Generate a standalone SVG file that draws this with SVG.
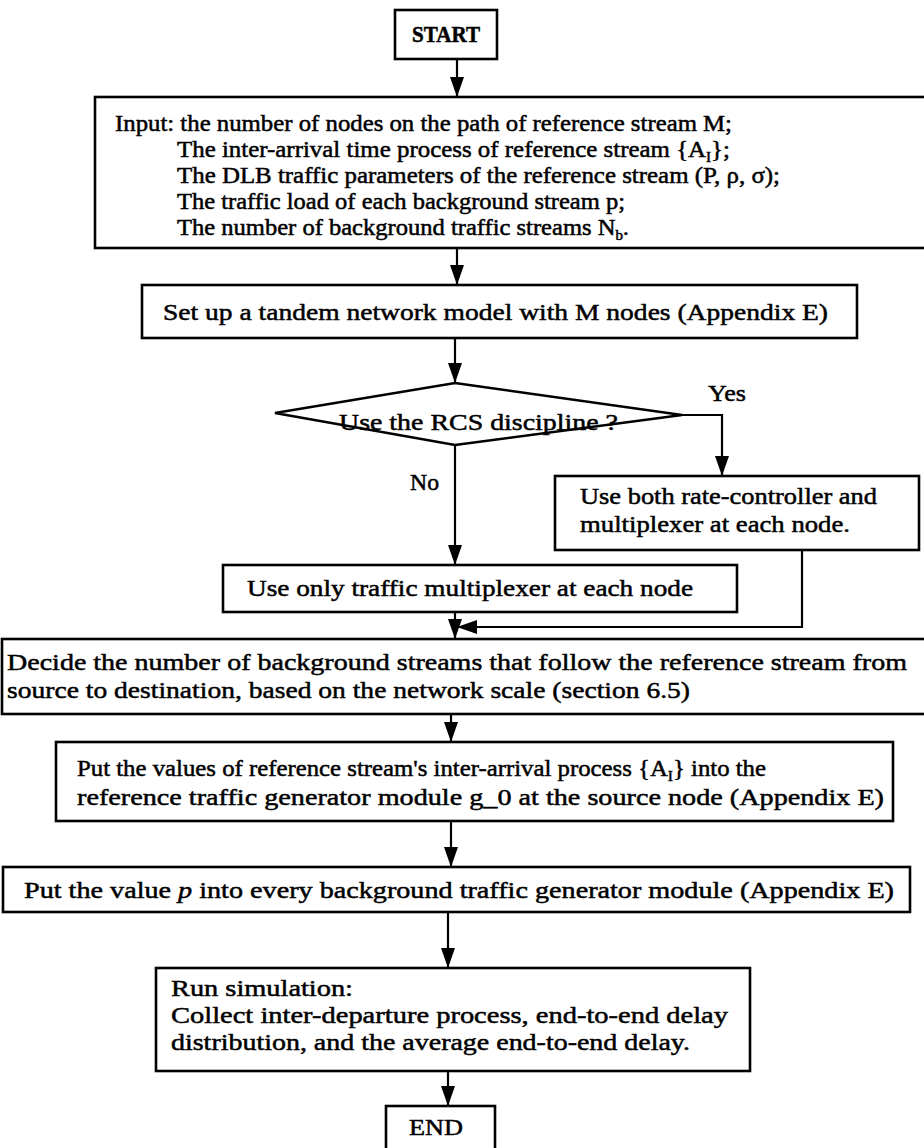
<svg xmlns="http://www.w3.org/2000/svg" width="924" height="1148" viewBox="0 0 924 1148">
  <style>
    .box { fill: #fff; stroke: #000; stroke-width: 2.6; }
    .t { font-family: "Liberation Serif", "Times New Roman", serif; font-size: 24px; fill: #000; stroke: #000; stroke-width: 0.5; }
    .s { font-size: 23px; }
    .c { text-anchor: middle; }
    .conn { fill: none; stroke: #000; stroke-width: 2.2; }
  </style>
  <defs>
    <marker id="arrow" viewBox="0 0 20 14" refX="20" refY="7" markerWidth="20" markerHeight="14" markerUnits="userSpaceOnUse" orient="auto">
      <path d="M0,0 L20,7 L0,14 z" fill="#000"/>
    </marker>
  </defs>
  <rect width="924" height="1148" fill="#fff"/>

  <!-- connectors -->
  <g id="connectors">
    <line class="conn" x1="457" y1="59" x2="457" y2="97" marker-end="url(#arrow)"/>
    <line class="conn" x1="457" y1="248" x2="457" y2="285" marker-end="url(#arrow)"/>
    <line class="conn" x1="455" y1="338" x2="455" y2="383" marker-end="url(#arrow)"/>
    <polyline class="conn" points="682,415 722,415 722,476" marker-end="url(#arrow)"/>
    <line class="conn" x1="455" y1="445" x2="455" y2="565" marker-end="url(#arrow)"/>
    <polyline class="conn" points="802,550 802,627 457,627" marker-end="url(#arrow)"/>
    <line class="conn" x1="455" y1="612" x2="455" y2="639" marker-end="url(#arrow)"/>
    <line class="conn" x1="451" y1="714" x2="451" y2="742" marker-end="url(#arrow)"/>
    <line class="conn" x1="451" y1="821" x2="451" y2="867" marker-end="url(#arrow)"/>
    <line class="conn" x1="448" y1="912" x2="448" y2="968" marker-end="url(#arrow)"/>
    <line class="conn" x1="448" y1="1071" x2="448" y2="1106" marker-end="url(#arrow)"/>
  </g>

  <g id="start">
    <rect class="box" x="395" y="10" width="102" height="49"/>
    <text class="t c" x="446" y="42" font-size="22" font-weight="bold" textLength="68" lengthAdjust="spacingAndGlyphs">START</text>
  </g>

  <g id="input">
    <rect class="box" x="95" y="97" width="845" height="151"/>
    <text class="t s" x="115" y="131" textLength="617" lengthAdjust="spacingAndGlyphs">Input: the number of nodes on the path of reference stream M;</text>
    <text class="t s" x="177" y="157" textLength="553" lengthAdjust="spacingAndGlyphs">The inter-arrival time process of reference stream {A<tspan font-size="14" dy="5">I</tspan><tspan dy="-5">};</tspan></text>
    <text class="t s" x="177" y="183" textLength="603" lengthAdjust="spacingAndGlyphs">The DLB traffic parameters of the reference stream (P, ρ, σ);</text>
    <text class="t s" x="177" y="209" textLength="448" lengthAdjust="spacingAndGlyphs">The traffic load of each background stream p;</text>
    <text class="t s" x="177" y="235" textLength="452" lengthAdjust="spacingAndGlyphs">The number of background traffic streams N<tspan font-size="14" dy="5">b</tspan><tspan dy="-5">.</tspan></text>
  </g>

  <g id="setup">
    <rect class="box" x="142" y="285" width="715" height="53"/>
    <text class="t" x="163" y="320" textLength="665" lengthAdjust="spacingAndGlyphs">Set up a tandem network model with M nodes (Appendix E)</text>
  </g>

  <g id="decision">
    <polygon class="box" points="455,383 682,415 455,445 275,413"/>
    <text class="t" x="339" y="430" textLength="279" lengthAdjust="spacingAndGlyphs">Use the RCS discipline ?</text>
    <text class="t" x="708" y="401" textLength="38" lengthAdjust="spacingAndGlyphs">Yes</text>
    <text class="t" x="410" y="490" textLength="29" lengthAdjust="spacingAndGlyphs">No</text>
  </g>

  <g id="rcs-yes">
    <rect class="box" x="555" y="476" width="364" height="74"/>
    <text class="t" x="580" y="504" textLength="297" lengthAdjust="spacingAndGlyphs">Use both rate-controller and</text>
    <text class="t" x="580" y="532" textLength="270" lengthAdjust="spacingAndGlyphs">multiplexer at each node.</text>
  </g>

  <g id="rcs-no">
    <rect class="box" x="223" y="565" width="514" height="47"/>
    <text class="t" x="247" y="596" textLength="446" lengthAdjust="spacingAndGlyphs">Use only traffic multiplexer at each node</text>
  </g>

  <g id="decide">
    <rect class="box" x="2" y="639" width="940" height="75"/>
    <text class="t" x="7" y="670" textLength="900" lengthAdjust="spacingAndGlyphs">Decide the number of background streams that follow the reference stream from</text>
    <text class="t" x="7" y="698" textLength="683" lengthAdjust="spacingAndGlyphs">source to destination, based on the network scale (section 6.5)</text>
  </g>

  <g id="put-values">
    <rect class="box" x="56" y="742" width="837" height="79"/>
    <text class="t" x="77" y="776" textLength="689" lengthAdjust="spacingAndGlyphs">Put the values of reference stream's inter-arrival process {A<tspan font-size="15" dy="5">I</tspan><tspan dy="-5">} into the</tspan></text>
    <text class="t" x="77" y="805" textLength="807" lengthAdjust="spacingAndGlyphs">reference traffic generator module g_0 at the source node (Appendix E)</text>
  </g>

  <g id="put-p">
    <rect class="box" x="3" y="867" width="907" height="45"/>
    <text class="t" x="24" y="898" textLength="870" lengthAdjust="spacingAndGlyphs">Put the value <tspan font-style="italic">p</tspan> into every background traffic generator module (Appendix E)</text>
  </g>

  <g id="run">
    <rect class="box" x="156" y="968" width="594" height="103"/>
    <text class="t" x="171" y="996" textLength="182" lengthAdjust="spacingAndGlyphs">Run simulation:</text>
    <text class="t" x="171" y="1023" textLength="557" lengthAdjust="spacingAndGlyphs">Collect inter-departure process, end-to-end delay</text>
    <text class="t" x="171" y="1050" textLength="519" lengthAdjust="spacingAndGlyphs">distribution, and the average end-to-end delay.</text>
  </g>

  <g id="end">
    <rect class="box" x="386" y="1106" width="109" height="50"/>
    <text class="t c" x="436" y="1135" textLength="54" lengthAdjust="spacingAndGlyphs">END</text>
  </g>
</svg>
